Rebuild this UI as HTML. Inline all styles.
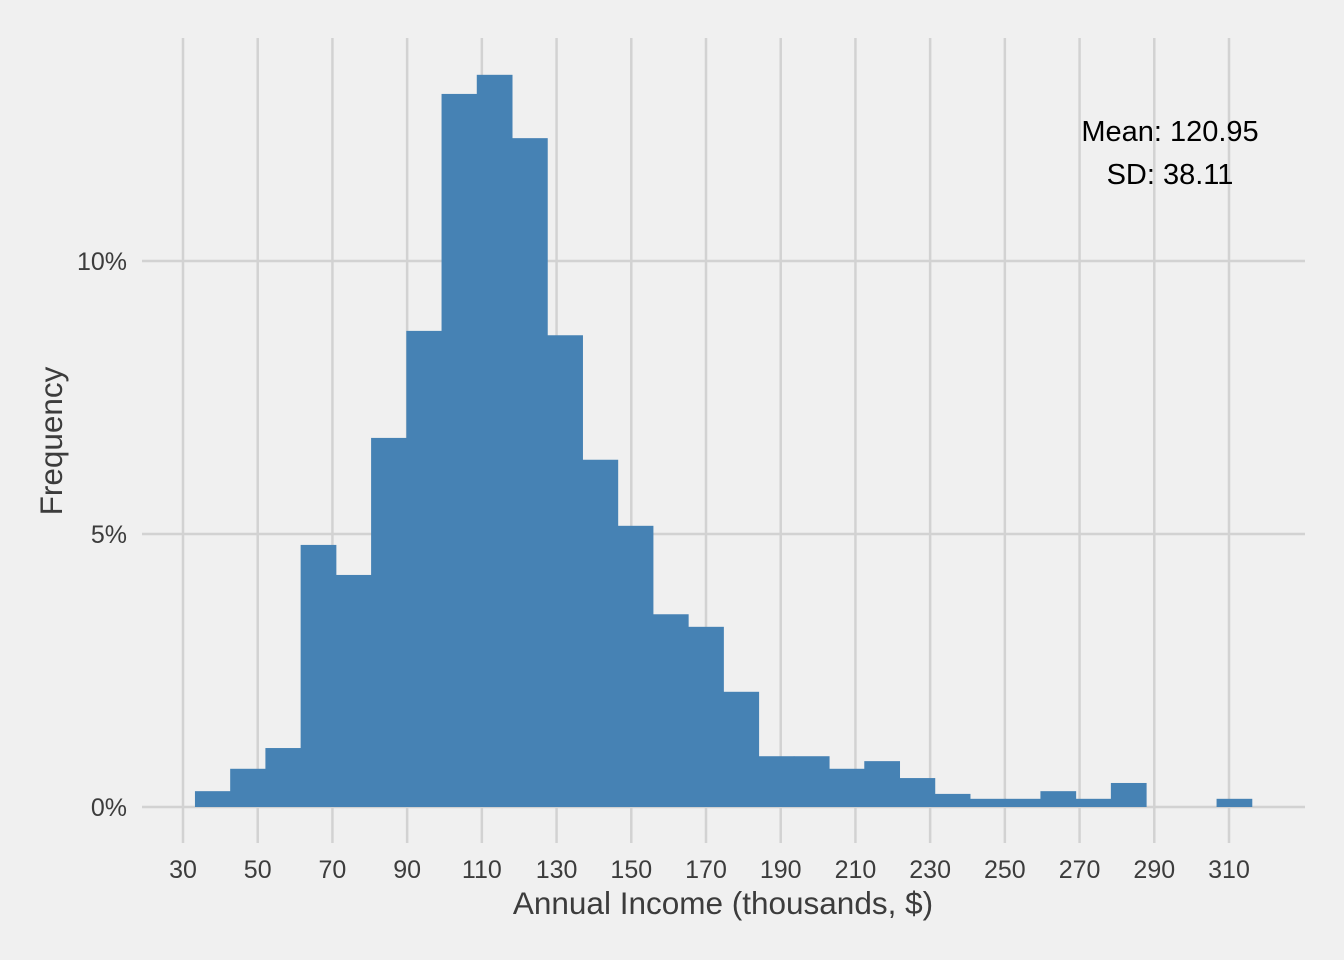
<!DOCTYPE html>
<html><head><meta charset="utf-8"><style>
html,body{margin:0;padding:0;background:#f0f0f0;}
svg{display:block;font-family:"Liberation Sans",sans-serif;}
</style></head><body>
<svg id="chart" width="1344" height="960" xmlns="http://www.w3.org/2000/svg">
<rect width="1344" height="960" fill="#f0f0f0"/>
<g id="grid"></g><g id="bars"></g><g id="axes"></g>
<text x="1170" y="141" font-size="29" text-anchor="middle" fill="#000">Mean: 120.95</text>
<text x="1170" y="184" font-size="29" text-anchor="middle" fill="#000">SD: 38.11</text>
<text x="723" y="914" font-size="31.5" text-anchor="middle" fill="#3c3c3c">Annual Income (thousands, $)</text>
<text x="0" y="0" font-size="31.5" text-anchor="middle" fill="#3c3c3c" transform="translate(62,441) rotate(-90)">Frequency</text>
</svg>
<script>
const binStart = 33.2;
const binWidth = 9.43;
const freqs = [0.29,0.70,1.08,4.80,4.25,6.76,8.72,13.06,13.41,12.25,8.64,6.36,5.15,3.53,3.30,2.11,0.93,0.93,0.70,0.84,0.53,0.24,0.15,0.15,0.29,0.15,0.44,0,0,0.15];
const xTicks = [30,50,70,90,110,130,150,170,190,210,230,250,270,290,310];
const yTicks = [0,5,10];
const yTickLabels = ["0%","5%","10%"];
const NS="http://www.w3.org/2000/svg";
const xs = v => 183 + (v-30)*(1046/280);
const ys = v => 807 - v*54.6;
function mk(tag, attrs, parent){const e=document.createElementNS(NS,tag);for(const k in attrs)e.setAttribute(k,attrs[k]);document.getElementById(parent).appendChild(e);return e;}
xTicks.forEach(t=>{
  const l=mk('line',{x1:xs(t),x2:xs(t),y1:38,y2:843,stroke:'#d2d2d2','stroke-width':2.5},'grid');
  
  
  const tx=mk('text',{x:xs(t),y:878,'font-size':25,'text-anchor':'middle',fill:'#3c3c3c'},'axes');
  tx.textContent=t;
  
  
});
yTicks.forEach((t,i)=>{
  const l=mk('line',{x1:142,x2:1305,y1:ys(t),y2:ys(t),stroke:'#d2d2d2','stroke-width':2.5},'grid');
  
  
  const tx=mk('text',{x:127,y:ys(t)+9,'font-size':25,'text-anchor':'end',fill:'#3c3c3c'},'axes');
  tx.textContent=yTickLabels[i];
  
  
});
freqs.forEach((f,i)=>{
  if(f<=0) return;
  const x0=xs(binStart+i*binWidth), x1=xs(binStart+(i+1)*binWidth);
  const r=mk('rect',{x:x0,y:ys(f),width:x1-x0+0.5,height:ys(0)-ys(f),fill:'#4682b4'},'bars');
  
  
});
</script>
</body></html>
